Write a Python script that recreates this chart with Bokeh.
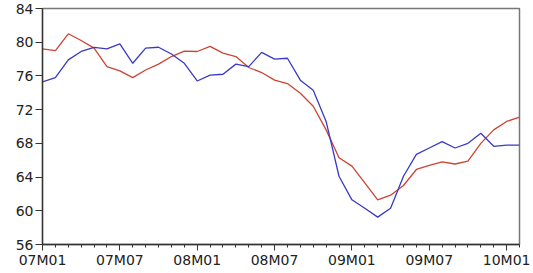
from bokeh.plotting import figure
from bokeh.models import Range1d, FixedTicker
from bokeh.embed import file_html
from bokeh.resources import INLINE

# Monthly data, 2007M01 .. 2010M02
blue = [75.3, 75.8, 77.9, 78.9, 79.4, 79.2, 79.8, 77.5, 79.3, 79.4,
        78.6, 77.5, 75.4, 76.1, 76.2, 77.4, 77.1, 78.8, 78.0, 78.1,
        75.5, 74.3, 70.6, 64.1, 61.3, 60.3, 59.25, 60.3, 64.1, 66.7,
        67.45, 68.2, 67.45, 68.0, 69.2, 67.65, 67.8, 67.8]
red = [79.2, 79.0, 81.0, 80.2, 79.3, 77.1, 76.6, 75.8, 76.7, 77.4,
       78.3, 78.95, 78.9, 79.5, 78.7, 78.3, 77.0, 76.4, 75.5, 75.1,
       73.95, 72.4, 69.6, 66.3, 65.3, 63.3, 61.3, 61.85, 63.0, 64.9,
       65.4, 65.8, 65.55, 65.9, 68.0, 69.6, 70.6, 71.1]
tick_pos = [0, 6, 12, 18, 24, 30, 36]
tick_labels = ["07M01", "07M07", "08M01", "08M07", "09M01", "09M07", "10M01"]
y_ticks = [56, 60, 64, 68, 72, 76, 80, 84]

x = list(range(len(blue)))

p = figure(frame_width=477, frame_height=236, output_backend="svg", toolbar_location=None,
           x_range=Range1d(0, len(blue) - 1), y_range=Range1d(56, 84),
           min_border_left=42, min_border_right=12, min_border_top=8,
           min_border_bottom=24)

p.line(x, red, line_color="#cc4433", line_width=1.3)
p.line(x, blue, line_color="#3a3ac4", line_width=1.3)

p.grid.visible = False
p.outline_line_color = "#777777"
p.outline_line_width = 1.5
p.background_fill_color = "white"
p.border_fill_color = "white"

p.xaxis.ticker = FixedTicker(ticks=tick_pos, minor_ticks=x)
p.xaxis.major_label_overrides = {t: l for t, l in zip(tick_pos, tick_labels)}
p.yaxis.ticker = FixedTicker(ticks=y_ticks)

for ax in (p.xaxis, p.yaxis):
    ax.axis_line_color = "#333333"
    ax.axis_line_width = 1.3
    ax.major_tick_line_color = "#333333"
    ax.minor_tick_line_color = "#333333"
    ax.major_tick_in = 0
    ax.minor_tick_in = 0
    ax.major_label_text_font = "DejaVu Sans"
    ax.major_label_text_font_size = "14px"
    ax.major_label_text_color = "#222222"

p.xaxis.major_tick_out = 6
p.xaxis.minor_tick_out = 3
p.xaxis.major_label_standoff = 1
p.yaxis.major_tick_out = 7
p.yaxis.minor_tick_line_color = None
p.yaxis.major_label_standoff = 2

open("out.html", "w").write(file_html(p, INLINE))
